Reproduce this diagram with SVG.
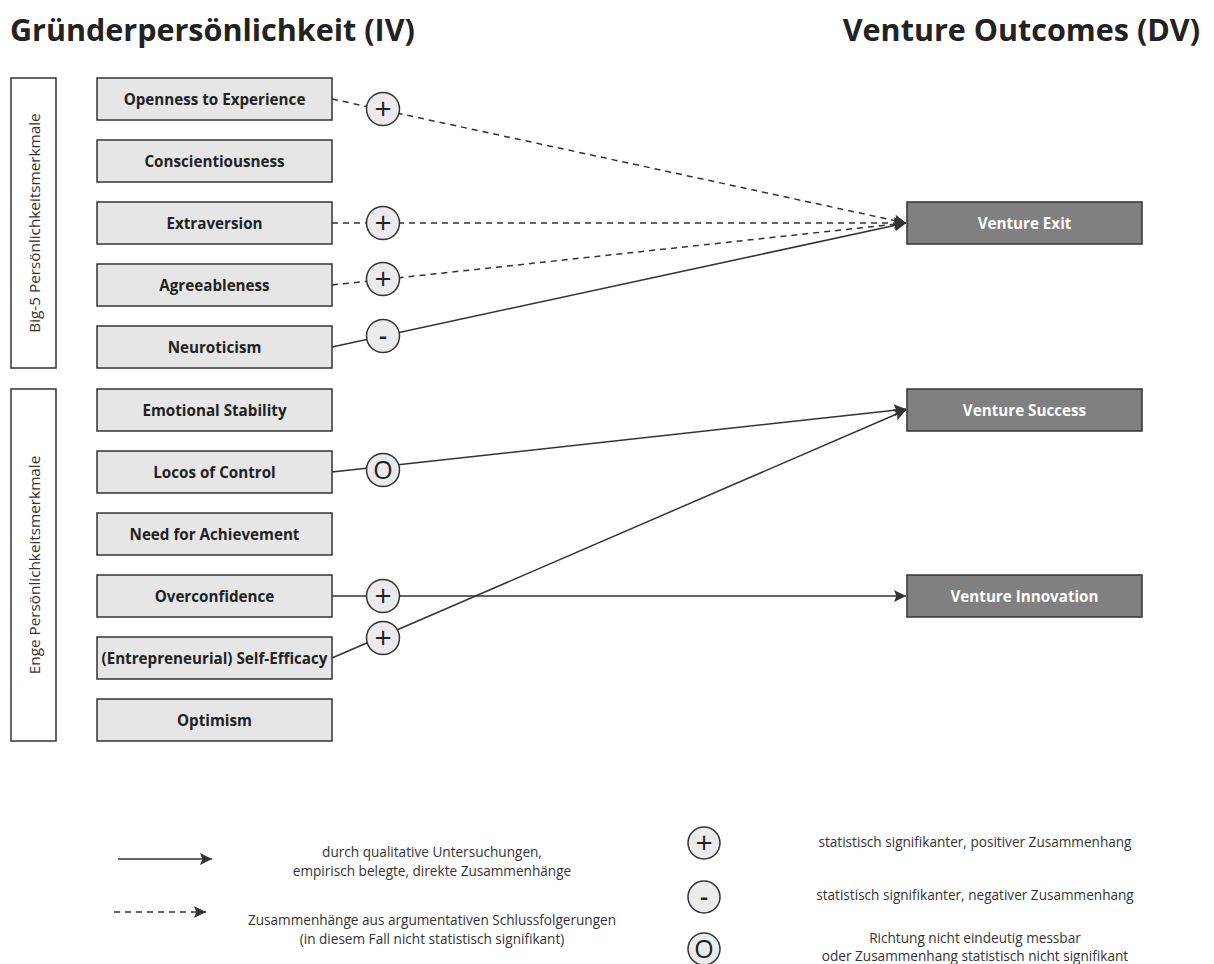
<svg xmlns="http://www.w3.org/2000/svg" width="1214" height="964" viewBox="0 0 1214 964">
<style>
text{font-family:"Open Sans","Noto Sans","Liberation Sans",sans-serif;}
.title{font-size:30.5px;font-weight:700;fill:#222;}
.grp{fill:#fff;stroke:#333;stroke-width:1.5;}
.grpt{font-size:15.3px;fill:#333;text-anchor:middle;}
.iv{fill:#e6e6e6;stroke:#333;stroke-width:1.5;}
.ivt{font-size:15.2px;font-weight:700;fill:#222;text-anchor:middle;}
.dv{fill:#808080;stroke:#333;stroke-width:1.5;}
.dvt{font-size:15.2px;font-weight:700;fill:#fff;text-anchor:middle;}
.ln{fill:none;stroke:#333;stroke-width:1.5;}
.dash{stroke-dasharray:6 5;}
.sig{fill:#ebebeb;stroke:#333;stroke-width:1.5;}
.sigt{font-size:30px;font-weight:500;fill:#222;text-anchor:middle;}
.sigm{font-size:25px;font-weight:600;fill:#222;text-anchor:middle;}
.sigo{font-size:25px;font-weight:400;fill:#222;text-anchor:middle;}
.leg{font-size:13.6px;fill:#333;text-anchor:middle;}
</style>
<defs>
<marker id="ah" viewBox="0 0 10 10" refX="10" refY="5" markerWidth="12" markerHeight="12" markerUnits="userSpaceOnUse" orient="auto">
<path d="M0,0 L10,5 L0,10 L2,5 Z" fill="#333"/>
</marker>
</defs>
<text class="title" x="10" y="41">Gründerpersönlichkeit (IV)</text>
<text class="title" x="1200" y="41" text-anchor="end">Venture Outcomes (DV)</text>

<g id="big5">
<rect class="grp" x="11" y="78" width="45" height="290"/>
<text class="grpt" transform="translate(40,223) rotate(-90)">Big-5 Persönlichkeitsmerkmale</text>
</g>
<g id="enge">
<rect class="grp" x="11" y="389" width="45" height="352"/>
<text class="grpt" transform="translate(40,565) rotate(-90)">Enge Persönlichkeitsmerkmale</text>
</g>

<g id="connectors">
<path class="ln dash" d="M332,99 L906,223" marker-end="url(#ah)"/>
<path class="ln dash" d="M332,223 L906,223" marker-end="url(#ah)"/>
<path class="ln dash" d="M332,285 L906,223" marker-end="url(#ah)"/>
<path class="ln" d="M332,347 L906,223" marker-end="url(#ah)"/>
<path class="ln" d="M332,472 L906,409" marker-end="url(#ah)"/>
<path class="ln" d="M332,658 L906,410" marker-end="url(#ah)"/>
<path class="ln" d="M332,596 L906,596" marker-end="url(#ah)"/>
</g>

<g id="openness"><rect class="iv" x="97" y="78" width="235" height="42"/><text class="ivt" x="214.5" y="104.5">Openness to Experience</text></g>
<g id="conscientiousness"><rect class="iv" x="97" y="140" width="235" height="42"/><text class="ivt" x="214.5" y="166.5">Conscientiousness</text></g>
<g id="extraversion"><rect class="iv" x="97" y="202" width="235" height="42"/><text class="ivt" x="214.5" y="228.5">Extraversion</text></g>
<g id="agreeableness"><rect class="iv" x="97" y="264" width="235" height="42"/><text class="ivt" x="214.5" y="290.5">Agreeableness</text></g>
<g id="neuroticism"><rect class="iv" x="97" y="326" width="235" height="42"/><text class="ivt" x="214.5" y="352.5">Neuroticism</text></g>
<g id="emotional-stability"><rect class="iv" x="97" y="389" width="235" height="42"/><text class="ivt" x="214.5" y="415.5">Emotional Stability</text></g>
<g id="locus"><rect class="iv" x="97" y="451" width="235" height="42"/><text class="ivt" x="214.5" y="477.5">Locos of Control</text></g>
<g id="need"><rect class="iv" x="97" y="513" width="235" height="42"/><text class="ivt" x="214.5" y="539.5">Need for Achievement</text></g>
<g id="overconfidence"><rect class="iv" x="97" y="575" width="235" height="42"/><text class="ivt" x="214.5" y="601.5">Overconfidence</text></g>
<g id="self-efficacy"><rect class="iv" x="97" y="637" width="235" height="42"/><text class="ivt" x="214.5" y="663.5">(Entrepreneurial) Self-Efficacy</text></g>
<g id="optimism"><rect class="iv" x="97" y="699" width="235" height="42"/><text class="ivt" x="214.5" y="725.5">Optimism</text></g>

<g id="venture-exit"><rect class="dv" x="907" y="202" width="235" height="42"/><text class="dvt" x="1024.5" y="228.5">Venture Exit</text></g>
<g id="venture-success"><rect class="dv" x="907" y="389" width="235" height="42"/><text class="dvt" x="1024.5" y="415.5">Venture Success</text></g>
<g id="venture-innovation"><rect class="dv" x="907" y="575" width="235" height="42"/><text class="dvt" x="1024.5" y="601.5">Venture Innovation</text></g>

<g id="sig-openness"><circle class="sig" cx="383" cy="109" r="16.5"/><text class="sigt" x="383" y="119">+</text></g>
<g id="sig-extraversion"><circle class="sig" cx="383" cy="223" r="16.5"/><text class="sigt" x="383" y="233">+</text></g>
<g id="sig-agreeableness"><circle class="sig" cx="383" cy="279" r="16.5"/><text class="sigt" x="383" y="289">+</text></g>
<g id="sig-neuroticism"><circle class="sig" cx="383" cy="336" r="16.5"/><text class="sigm" x="383" y="345">-</text></g>
<g id="sig-locus"><circle class="sig" cx="383" cy="470" r="16.5"/><text class="sigo" x="383" y="479">O</text></g>
<g id="sig-overconfidence"><circle class="sig" cx="383" cy="596" r="16.5"/><text class="sigt" x="383" y="606">+</text></g>
<g id="sig-self-efficacy"><circle class="sig" cx="383" cy="638" r="16.5"/><text class="sigt" x="383" y="648">+</text></g>

<g id="legend">
<path class="ln" d="M118,859 L212,859" marker-end="url(#ah)"/>
<text class="leg" x="432" y="857">durch qualitative Untersuchungen,</text>
<text class="leg" x="432" y="876">empirisch belegte, direkte Zusammenhänge</text>
<path class="ln dash" d="M114,912 L206,912" marker-end="url(#ah)"/>
<text class="leg" x="432" y="925">Zusammenhänge aus argumentativen Schlussfolgerungen</text>
<text class="leg" x="432" y="944">(in diesem Fall nicht statistisch signifikant)</text>
<circle class="sig" cx="704" cy="843" r="16"/><text class="sigt" x="704" y="853">+</text>
<circle class="sig" cx="704" cy="897" r="16"/><text class="sigm" x="704" y="906">-</text>
<circle class="sig" cx="704" cy="949" r="16"/><text class="sigo" x="704" y="958">O</text>
<text class="leg" x="975" y="847">statistisch signifikanter, positiver Zusammenhang</text>
<text class="leg" x="975" y="900">statistisch signifikanter, negativer Zusammenhang</text>
<text class="leg" x="975" y="943">Richtung nicht eindeutig messbar</text>
<text class="leg" x="975" y="961">oder Zusammenhang statistisch nicht signifikant</text>
</g>
</svg>
